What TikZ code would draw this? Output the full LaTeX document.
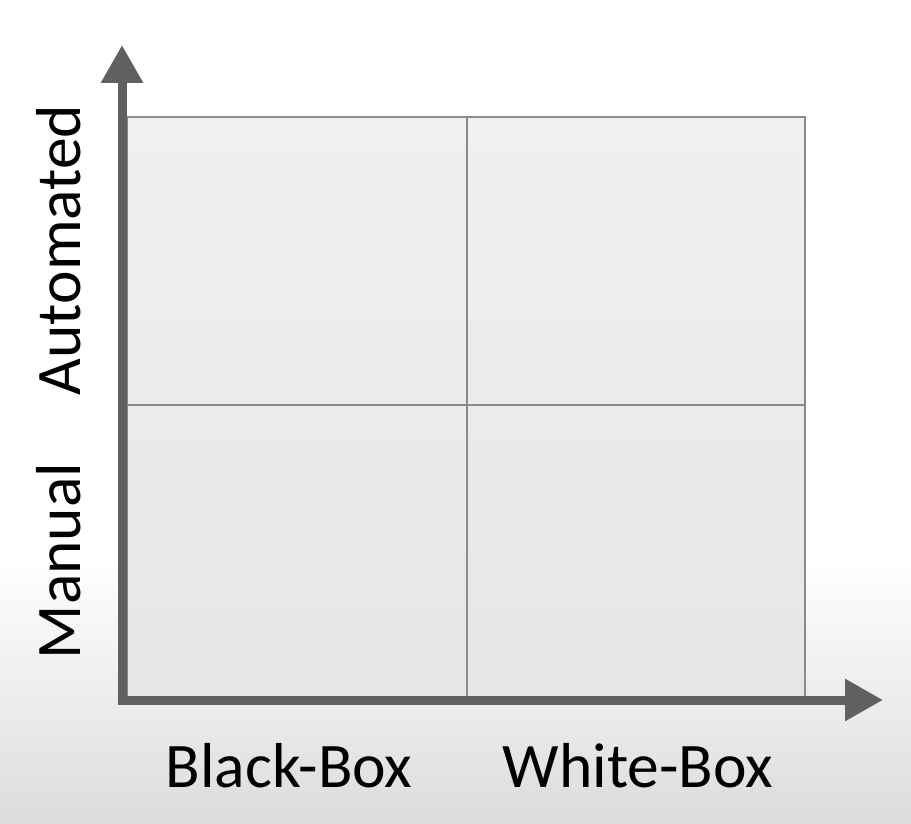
\documentclass[tikz,border=0pt]{standalone}
\usepackage{fontspec}
\setmainfont{Carlito}
\usetikzlibrary{arrows.meta}
\definecolor{axiscol}{HTML}{606060}
\definecolor{gridcol}{HTML}{8A8A8A}
\definecolor{boxtop}{HTML}{F0F0F0}
\definecolor{boxbot}{HTML}{E6E6E6}
\definecolor{bgbot}{HTML}{DCDCDC}
\tikzset{
  axisline/.style={draw=axiscol, line width=9pt, line join=miter,
    {Triangle[length=38pt,width=40pt]}-{Triangle[length=38pt,width=40pt]}},
  gridline/.style={draw=gridcol, line width=1.8pt},
  axlabel/.style={font=\fontsize{63.5}{70}\selectfont, text=black, inner sep=0pt, anchor=base}
}
\begin{document}
\begin{tikzpicture}[x=1pt,y=1pt]
\useasboundingbox (0,0) rectangle (911,823);
% background
\fill[white] (0,0) rectangle (911,823);
\shade[top color=white, bottom color=bgbot] (0,0) rectangle (911,265);
% quadrant box
\coordinate (bl) at (127,126);
\coordinate (tr) at (805,706);
\coordinate (mb) at (467,126);
\coordinate (mt) at (467,706);
\coordinate (ml) at (127,418);
\coordinate (mr) at (805,418);
\shade[top color=boxtop, bottom color=boxbot] (bl) rectangle (tr);
\draw[gridline] (bl) rectangle (tr);
\draw[gridline] (mb) -- (mt);
\draw[gridline] (ml) -- (mr);
% axes
\coordinate (ytip) at (122,778);
\coordinate (origin) at (122,123);
\coordinate (xtip) at (883,123);
\draw[axisline] (ytip) -- (origin) -- (xtip);
% labels
\node[axlabel] (bb) at (289,36) {Black-Box};
\node[axlabel] (wb) at (638,36) {White-Box};
\node[axlabel, rotate=90] (auto) at (80,573) {Automated};
\node[axlabel, rotate=90] (man) at (80,262) {Manual};
\end{tikzpicture}
\end{document}
